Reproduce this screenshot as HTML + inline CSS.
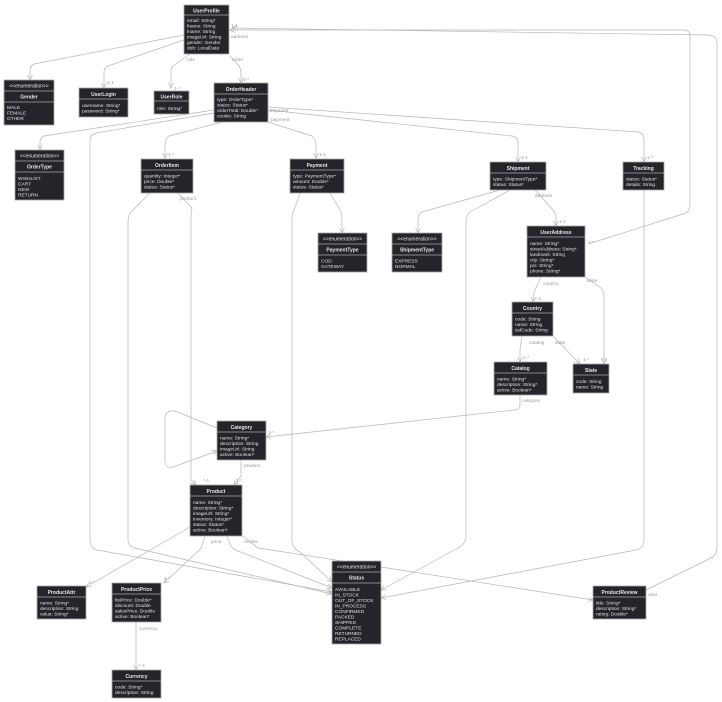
<!DOCTYPE html>
<html><head><meta charset="utf-8"><style>
html,body{margin:0;padding:0;background:#fff;}
svg{display:block;font-family:"Liberation Sans",sans-serif;}
.b{fill:#23252b;stroke:#a9a9a9;stroke-width:0.8}
.s{stroke:#a9a9a9;stroke-width:0.7}
.h{fill:#e6e6e6;font-size:5px;font-weight:bold;text-anchor:middle}
.t{fill:#e0e0e0;font-size:4.8px}
.l{fill:none;stroke:#b5b5b5;stroke-width:0.7}
.lb{fill:#999;font-size:4.8px}
</style></head><body>
<svg width="722" height="702" viewBox="0 0 722 702" xmlns="http://www.w3.org/2000/svg">
<defs><marker id="a" markerWidth="6" markerHeight="6" refX="5" refY="3" orient="auto" markerUnits="userSpaceOnUse"><path d="M0,0.5 L5,3 L0,5.5" fill="none" stroke="#b5b5b5" stroke-width="0.7"/></marker></defs>
<g class="l" marker-end="url(#a)">
<path d="M184,35 L34,64 Q30,66 30,70 L30,80"/>
<path d="M184,40 L108,66 Q104,68 104,72 L104,88"/>
<path d="M190,54 L173,66 Q171,68 171,72 L171,88"/>
<path d="M230,56 L239,66 Q241,69 241,73 L241,83"/>
<path d="M690,36 L690,205 Q690,212 683,214 L588,244 M690,36 Q690,30 684,30 L230,30"/>
<path d="M646,590 L711,558 Q717,555 717,548 L717,44 Q717,35 708,35 L232,28"/>
<path d="M214,110 L44,136 Q40,138 40,142 L40,150"/>
<path d="M214,113 L96,133 Q90,135 90,141 L90,540 Q90,548 97,550 L332,592"/>
<path d="M222,122 L169,136 Q165,139 165,145 L165,158"/>
<path d="M268,122 L312,136 Q316,139 316,145 L316,158"/>
<path d="M268,110 L512,136 Q518,137 518,143 L518,162"/>
<path d="M268,107 L639,132 Q644,134 644,140 L644,162"/>
<path d="M178,193 L192,208 Q191,212 191,218 L191,480 L196,485"/>
<path d="M150,193 L131,212 Q128,216 128,222 L128,540 Q128,546 135,548 L332,594"/>
<path d="M300,193 L294,210 Q292,214 292,220 L292,540 Q292,548 300,552 L332,582"/>
<path d="M330,193 L340,210 Q342,214 342,220 L342,233"/>
<path d="M500,190 L422,212 Q418,214 418,220 L418,233"/>
<path d="M510,190 L470,212 Q466,216 466,222 L466,535 Q466,544 458,548 L381,590"/>
<path d="M535,190 L553,210 Q556,214 556,218 L556,226"/>
<path d="M644,190 L644,540 Q644,548 636,550 L381,598"/>
<path d="M541,277 L534,292 L533,302"/>
<path d="M585,277 L601,288 Q604,291 604,296 L604,364"/>
<path d="M522,336 L520,350 L520,362"/>
<path d="M553,336 L580,364"/>
<path d="M520,395 L520,405 Q520,410 514,410 L266,437"/>
<path d="M217,428 L175,411 Q165,410 165,418 L165,462 Q166,469 173,467 L217,451"/>
<path d="M241,460 L241,476 L234,485"/>
<path d="M190,527 L86,587"/>
<path d="M205,536 L202,546 Q200,550 196,553 L164,583"/>
<path d="M227,536 L231,546 Q233,549 238,551 L332,588"/>
<path d="M243,536 L254,545 Q258,549 265,549 L593,600"/>
<path d="M136,622 L136,670"/>
</g>
<g class="lb">
<text x="231" y="27">1-1</text><text x="231" y="38">address</text>
<text x="187" y="61">role</text><text x="232" y="61">order</text>
<text x="107" y="84">1-1</text><text x="174" y="90">1-*</text><text x="243" y="81">1-*</text>
<text x="269" y="112">shipment</text><text x="271" y="121">payment</text>
<text x="168" y="156">1-*</text><text x="319" y="156">1-1</text><text x="521" y="159">1-1</text><text x="647" y="159">1-*</text>
<text x="180" y="200">product</text><text x="535" y="197">address</text><text x="559" y="223">1-1</text>
<text x="588" y="244">1-*</text><text x="543" y="285">country</text><text x="587" y="282">state</text>
<text x="535" y="300">*-1</text><text x="529" y="344">catalog</text><text x="555" y="344">state</text>
<text x="523" y="359">1-*</text><text x="583" y="361">1-*</text><text x="601" y="361">*-1</text>
<text x="522" y="402">category</text><text x="268" y="434">1-*</text><text x="244" y="467">product</text>
<text x="203" y="482">*-1</text><text x="236" y="482">1-*</text>
<text x="211" y="543">price</text><text x="244" y="543">review</text>
<text x="89" y="584">1-*</text><text x="164" y="580">1-*</text>
<text x="139" y="630">currency</text><text x="139" y="667">*-1</text><text x="648" y="596">user</text>
</g>
<!-- boxes -->
<g>
<rect class="b" x="184" y="5" width="45" height="49"/><line class="s" x1="184" y1="15" x2="229" y2="15"/>
<text class="h" x="206.5" y="12.5">UserProfile</text>
<text class="t" x="187" y="22">email: String*</text><text class="t" x="187" y="27.5">fname: String</text><text class="t" x="187" y="33">lname: String</text><text class="t" x="187" y="38.5">imageUrl: String</text><text class="t" x="187" y="44">gender: Gender</text><text class="t" x="187" y="49.5">dob: LocalDate</text>

<rect class="b" x="4" y="80" width="50" height="45"/><line class="s" x1="4" y1="91" x2="54" y2="91"/><line class="s" x1="4" y1="102" x2="54" y2="102"/>
<text class="h" x="29" y="87.5" style="font-weight:normal">&lt;&lt;enumeration&gt;&gt;</text><text class="h" x="29" y="98.5">Gender</text>
<text class="t" x="7" y="109">MALE</text><text class="t" x="7" y="114.5">FEMALE</text><text class="t" x="7" y="120">OTHER</text>

<rect class="b" x="79" y="88" width="49" height="29"/><line class="s" x1="79" y1="99" x2="128" y2="99"/>
<text class="h" x="103.5" y="96">UserLogin</text>
<text class="t" x="82" y="107">username: String*</text><text class="t" x="82" y="112.5">password: String*</text>

<rect class="b" x="154" y="91" width="35" height="23"/><line class="s" x1="154" y1="101" x2="189" y2="101"/>
<text class="h" x="171.5" y="98.5">UserRole</text><text class="t" x="157" y="110">role: String*</text>

<rect class="b" x="214" y="83" width="54" height="39"/><line class="s" x1="214" y1="94" x2="268" y2="94"/>
<text class="h" x="241" y="91">OrderHeader</text>
<text class="t" x="217" y="101">type: OrderType*</text><text class="t" x="217" y="106.5">status: Status*</text><text class="t" x="217" y="112">orderTotal: Double*</text><text class="t" x="217" y="117.5">cookie: String</text>

<rect class="b" x="15" y="150" width="49" height="50"/><line class="s" x1="15" y1="161" x2="64" y2="161"/><line class="s" x1="15" y1="172" x2="64" y2="172"/>
<text class="h" x="39.5" y="157.5" style="font-weight:normal">&lt;&lt;enumeration&gt;&gt;</text><text class="h" x="39.5" y="168.5">OrderType</text>
<text class="t" x="18" y="180">WISHLIST</text><text class="t" x="18" y="185.5">CART</text><text class="t" x="18" y="191">NEW</text><text class="t" x="18" y="196.5">RETURN</text>

<rect class="b" x="141" y="159" width="52" height="34"/><line class="s" x1="141" y1="170" x2="193" y2="170"/>
<text class="h" x="167" y="167">OrderItem</text>
<text class="t" x="144" y="177.5">quantity: Integer*</text><text class="t" x="144" y="183">price: Double*</text><text class="t" x="144" y="188.5">status: Status*</text>

<rect class="b" x="290" y="159" width="54" height="34"/><line class="s" x1="290" y1="170" x2="344" y2="170"/>
<text class="h" x="317" y="167">Payment</text>
<text class="t" x="293" y="177.5">type: PaymentType*</text><text class="t" x="293" y="183">amount: Double*</text><text class="t" x="293" y="188.5">status: Status*</text>

<rect class="b" x="490" y="162" width="56" height="28"/><line class="s" x1="490" y1="173" x2="546" y2="173"/>
<text class="h" x="518" y="170">Shipment</text>
<text class="t" x="493" y="180.5">type: ShipmentType*</text><text class="t" x="493" y="186">status: Status*</text>

<rect class="b" x="623" y="162" width="41" height="28"/><line class="s" x1="623" y1="173" x2="664" y2="173"/>
<text class="h" x="643.5" y="170">Tracking</text>
<text class="t" x="626" y="180.5">status: Status*</text><text class="t" x="626" y="186">details: String</text>

<rect class="b" x="318" y="233" width="49" height="39"/><line class="s" x1="318" y1="244" x2="367" y2="244"/><line class="s" x1="318" y1="255" x2="367" y2="255"/>
<text class="h" x="342.5" y="240.5" style="font-weight:normal">&lt;&lt;enumeration&gt;&gt;</text><text class="h" x="342.5" y="251.5">PaymentType</text>
<text class="t" x="321" y="262.5">COD</text><text class="t" x="321" y="268">GATEWAY</text>

<rect class="b" x="392" y="233" width="50" height="39"/><line class="s" x1="392" y1="244" x2="442" y2="244"/><line class="s" x1="392" y1="255" x2="442" y2="255"/>
<text class="h" x="417" y="240.5" style="font-weight:normal">&lt;&lt;enumeration&gt;&gt;</text><text class="h" x="417" y="251.5">ShipmentType</text>
<text class="t" x="395" y="262.5">EXPRESS</text><text class="t" x="395" y="268">NORMAL</text>

<rect class="b" x="527" y="226" width="58" height="51"/><line class="s" x1="527" y1="237" x2="585" y2="237"/>
<text class="h" x="556" y="234">UserAddress</text>
<text class="t" x="530" y="245">name: String*</text><text class="t" x="530" y="250.5">streetAddress: String*</text><text class="t" x="530" y="256">landmark: String</text><text class="t" x="530" y="261.5">city: String*</text><text class="t" x="530" y="267">pin: String*</text><text class="t" x="530" y="272.5">phone: String*</text>

<rect class="b" x="512" y="302" width="41" height="34"/><line class="s" x1="512" y1="313" x2="553" y2="313"/>
<text class="h" x="532.5" y="310">Country</text>
<text class="t" x="515" y="320.5">code: String</text><text class="t" x="515" y="326">name: String</text><text class="t" x="515" y="331.5">isdCode: String</text>

<rect class="b" x="494" y="362" width="53" height="33"/><line class="s" x1="494" y1="373" x2="547" y2="373"/>
<text class="h" x="520.5" y="370">Catalog</text>
<text class="t" x="497" y="380.5">name: String*</text><text class="t" x="497" y="386">description: String*</text><text class="t" x="497" y="391.5">active: Boolean*</text>

<rect class="b" x="573" y="364" width="36" height="29"/><line class="s" x1="573" y1="375" x2="609" y2="375"/>
<text class="h" x="591" y="372">State</text>
<text class="t" x="576" y="383">code: String</text><text class="t" x="576" y="388.5">name: String</text>

<rect class="b" x="217" y="421" width="49" height="39"/><line class="s" x1="217" y1="432" x2="266" y2="432"/>
<text class="h" x="241.5" y="429">Category</text>
<text class="t" x="220" y="439.5">name: String*</text><text class="t" x="220" y="445">description: String</text><text class="t" x="220" y="450.5">imageUrl: String</text><text class="t" x="220" y="456">active: Boolean*</text>

<rect class="b" x="190" y="485" width="52" height="51"/><line class="s" x1="190" y1="496" x2="242" y2="496"/>
<text class="h" x="216" y="493">Product</text>
<text class="t" x="193" y="504">name: String*</text><text class="t" x="193" y="509.5">description: String*</text><text class="t" x="193" y="515">imageUrl: String*</text><text class="t" x="193" y="520.5">inventory: Integer*</text><text class="t" x="193" y="526">status: Status*</text><text class="t" x="193" y="531.5">active: Boolean*</text>

<rect class="b" x="37" y="586" width="49" height="33"/><line class="s" x1="37" y1="597" x2="86" y2="597"/>
<text class="h" x="61.5" y="594">ProductAttr</text>
<text class="t" x="40" y="604.5">name: String*</text><text class="t" x="40" y="610">description: String</text><text class="t" x="40" y="615.5">value: String*</text>

<rect class="b" x="112" y="583" width="49" height="39"/><line class="s" x1="112" y1="594" x2="161" y2="594"/>
<text class="h" x="136.5" y="591">ProductPrice</text>
<text class="t" x="115" y="601.5">listPrice: Double*</text><text class="t" x="115" y="607">discount: Double</text><text class="t" x="115" y="612.5">salesPrice: Double</text><text class="t" x="115" y="618">active: Boolean*</text>

<rect class="b" x="112" y="670" width="49" height="28"/><line class="s" x1="112" y1="681" x2="161" y2="681"/>
<text class="h" x="136.5" y="678">Currency</text>
<text class="t" x="115" y="688.5">code: String*</text><text class="t" x="115" y="694">description: String</text>

<rect class="b" x="332" y="561" width="49" height="83"/><line class="s" x1="332" y1="572" x2="381" y2="572"/><line class="s" x1="332" y1="583" x2="381" y2="583"/>
<text class="h" x="356.5" y="568.5" style="font-weight:normal">&lt;&lt;enumeration&gt;&gt;</text><text class="h" x="356.5" y="579.5">Status</text>
<text class="t" x="335" y="591">AVAILABLE</text><text class="t" x="335" y="596.5">IN_STOCK</text><text class="t" x="335" y="602">OUT_OF_STOCK</text><text class="t" x="335" y="607.5">IN_PROCESS</text><text class="t" x="335" y="613">CONFIRMED</text><text class="t" x="335" y="618.5">PACKED</text><text class="t" x="335" y="624">SHIPPED</text><text class="t" x="335" y="629.5">COMPLETE</text><text class="t" x="335" y="635">RETURNED</text><text class="t" x="335" y="640.5">REPLACED</text>

<rect class="b" x="593" y="586" width="53" height="33"/><line class="s" x1="593" y1="597" x2="646" y2="597"/>
<text class="h" x="619.5" y="594">ProductReview</text>
<text class="t" x="596" y="604.5">title: String*</text><text class="t" x="596" y="610">description: String*</text><text class="t" x="596" y="615.5">rating: Double*</text>
</g>
</svg>
</body></html>
